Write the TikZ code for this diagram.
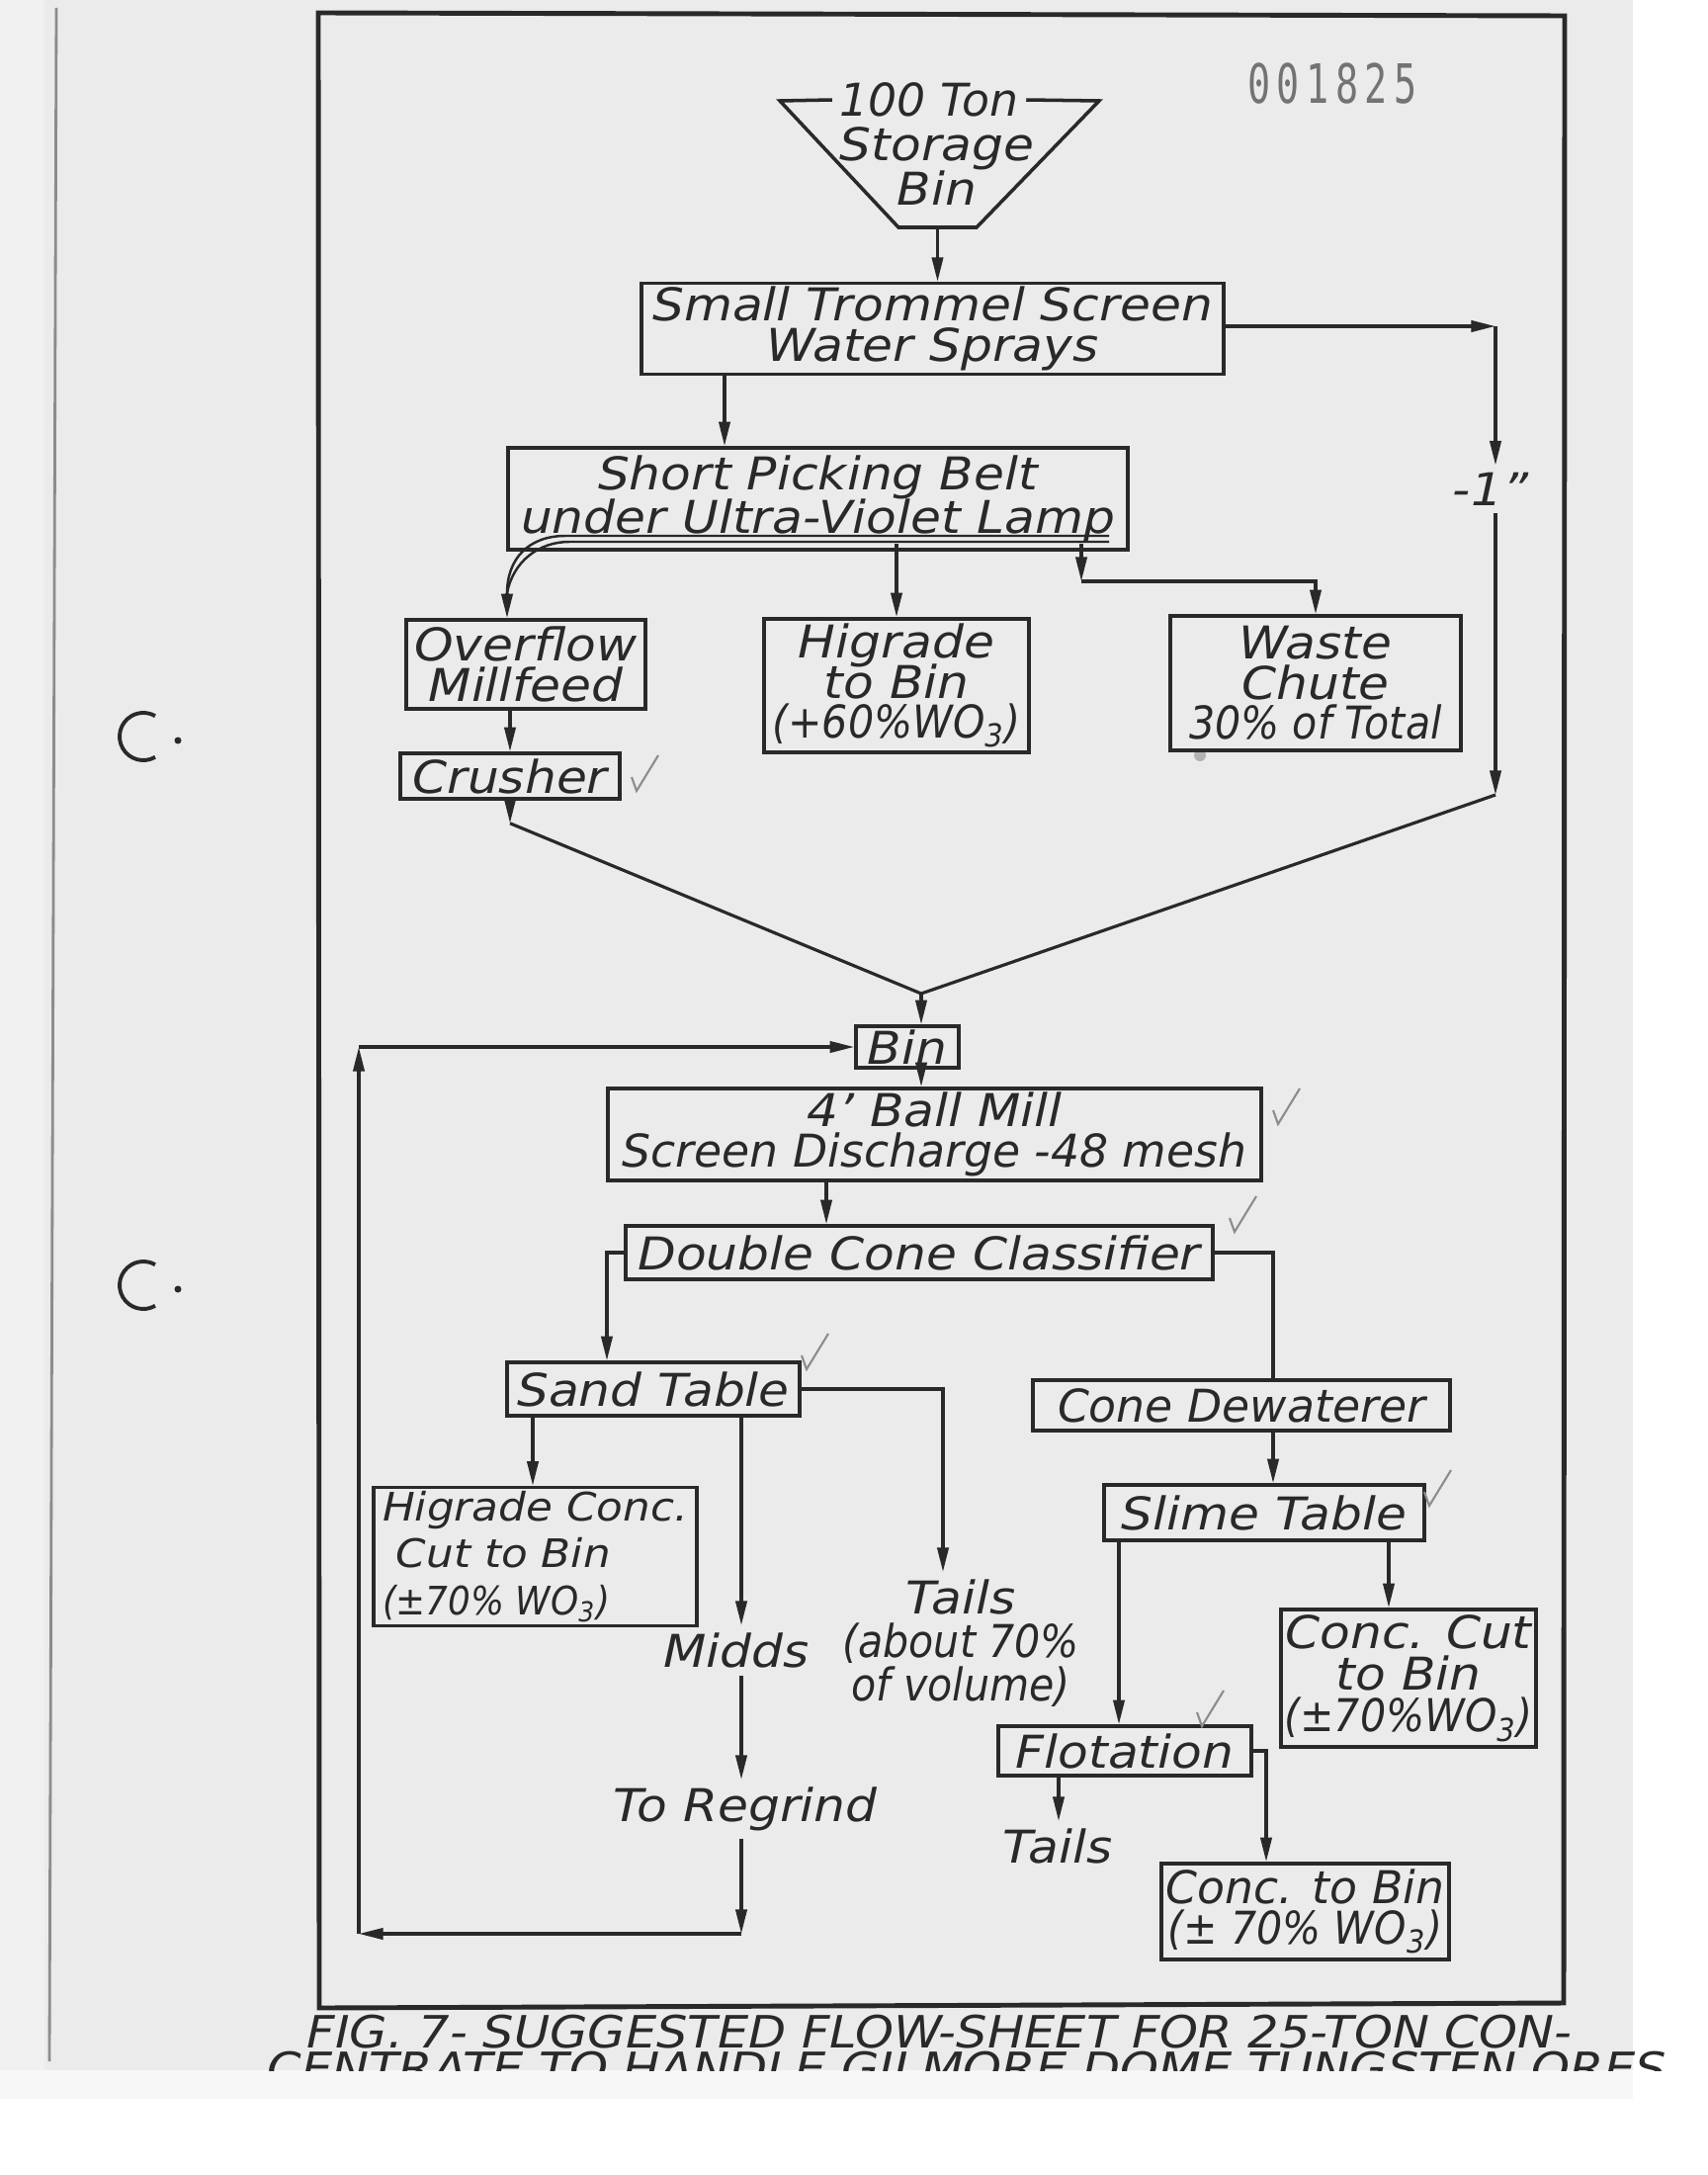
\documentclass[tikz,border=0pt]{standalone}
\usepackage{fontspec}
\setmainfont{DejaVu Sans}[ItalicFont={DejaVu Sans Oblique},FakeStretch=1.1]
\newfontfamily\plainfont{DejaVu Sans}[ItalicFont={DejaVu Sans Oblique}]
\newfontfamily\narrowfont{DejaVu Sans}[ItalicFont={DejaVu Sans Oblique},FakeStretch=0.9]
\newfontfamily\stampfont{DejaVu Sans Mono}[FakeStretch=0.7,LetterSpace=12]
\usetikzlibrary{arrows.meta}
\definecolor{paper}{gray}{0.92}
\definecolor{ink}{gray}{0.16}
\definecolor{pencil}{gray}{0.55}
\definecolor{stampgray}{gray}{0.45}
\setlength{\lineskiplimit}{-20pt}
\begin{document}
\begin{tikzpicture}[x=0.01cm,y=-0.01cm,
  every node/.style={text=ink,font=\fontsize{13}{11.5}\selectfont\itshape},
  stage/.style={draw=ink,line width=1pt,inner sep=1pt,align=center},
  stream/.style={inner sep=2pt,align=center},
  pipe/.style={draw=ink,line width=0.9pt},
  flow/.style={pipe,-{Triangle[length=7pt,width=3.2pt]}},
  pencilmark/.style={draw=pencil,line width=0.6pt}]

% sheet
\useasboundingbox (0,0) rectangle (1728,2200);
\fill[white] (0,0) rectangle (1728,2200);
\fill[black!6] (0,0) rectangle (45,2094);
\fill[paper] (45,0) rectangle (1652,2094);
\fill[black!3] (0,2094) rectangle (1652,2123);
\draw[black!45,line width=0.8pt] (57,8) -- (50,2085);
\foreach \y in {745,1300} {
  \draw[ink,line width=1.1pt] (145,\y) ++(60:24) arc[start angle=60,end angle=300,radius=24];
  \fill[ink] (180,\y+4) circle (3.5);
}
\fill[black!30] (1214,764) circle (6);
\draw[ink,line width=1.4pt] (322,13) -- (1583,16) -- (1582,2026) -- (323,2031) -- cycle;
\node[text=stampgray,font=\stampfont\fontsize{15.6}{16}\selectfont] (stamp) at (1348,85) {001825};

% storage bin
\node[stream,font=\plainfont\fontsize{13}{11.5}\selectfont\itshape] (bintop) at (940,101) {100 Ton};
\node[stream,font=\fontsize{13}{13}\selectfont\itshape] (storage) at (948,168) {Storage\\Bin};
\draw[pipe,line width=1pt] (bintop.west) -- (789,102) -- (909,230) -- (988,230) -- (1112,102) -- (bintop.east);

% units
\node[stage,minimum width=5.89cm,minimum height=0.91cm] (trommel) at (943.5,332.5) {Small Trommel Screen\\Water Sprays};
\node[stage,minimum width=6.27cm,minimum height=1.03cm,font=\fontsize{13}{12.5}\selectfont\itshape] (belt) at (827.5,504.5) {Short Picking Belt\\under Ultra-Violet Lamp};
\node[stage,minimum width=2.42cm,minimum height=0.90cm] (overflow) at (532,672) {Overflow\\Millfeed};
\node[stage,minimum width=2.68cm,minimum height=1.35cm] (higrade) at (907,693.5) {Higrade\\to Bin\\{\narrowfont(+60\%WO\textsubscript{3})}};
\node[stage,minimum width=2.94cm,minimum height=1.36cm] (waste) at (1331,691) {Waste\\Chute\\{\narrowfont 30\% of Total}};
\node[stage,minimum width=2.22cm,minimum height=0.46cm] (crusher) at (516,785) {Crusher};
\node[stage,minimum width=1.04cm,minimum height=0.42cm] (bin) at (918,1059) {Bin};
\node[stage,minimum width=6.61cm,minimum height=0.93cm] (mill) at (945.5,1147.5) {4' Ball Mill\\{\plainfont Screen Discharge -48 mesh}};
\node[stage,minimum width=5.94cm,minimum height=0.54cm] (dcc) at (930,1267) {Double Cone Classifier};
\node[stage,minimum width=2.96cm,minimum height=0.54cm] (sand) at (661,1405) {Sand Table};
\node[stage,minimum width=3.27cm,minimum height=1.39cm,align=left,font=\fontsize{11.3}{13.5}\selectfont\itshape] (hconc) at (541.5,1574.5) {Higrade Conc.\\\ Cut to Bin\\{\narrowfont(±70\% WO\textsubscript{3})}};
\node[stage,minimum width=4.22cm,minimum height=0.51cm,font=\plainfont\fontsize{13}{11.5}\selectfont\itshape] (cdew) at (1256,1421.5) {Cone Dewaterer};
\node[stage,minimum width=3.24cm,minimum height=0.56cm] (slime) at (1279,1530) {Slime Table};
\node[stage,minimum width=2.58cm,minimum height=1.39cm,font=\fontsize{13}{12}\selectfont\itshape] (ccut) at (1425,1697.5) {Conc. Cut\\to Bin\\{\narrowfont(±70\%WO\textsubscript{3})}};
\node[stage,minimum width=2.56cm,minimum height=0.50cm] (flot) at (1138,1771) {Flotation};
\node[stage,minimum width=2.91cm,minimum height=0.97cm] (cbin) at (1320.5,1933.5) {{\plainfont Conc. to Bin}\\{\narrowfont(± 70\% WO\textsubscript{3})}};

% stream labels
\node[stream] (minus) at (1508,495) {-1"};
\node[stream,anchor=north] (midds) at (745,1644) {Midds};
\node[stream,anchor=north] (regrind) at (754,1800) {To Regrind};
\node[stream,anchor=north,font=\fontsize{13}{12.5}\selectfont\itshape] (tails) at (972,1590) {Tails\\{\narrowfont (about 70\%}\\{\narrowfont of volume)}};
\node[stream,anchor=north] (tails2) at (1070,1842) {Tails};

% bends and columns
\coordinate (binout) at (948.5,230);
\coordinate (fine) at (1513,330);
\coordinate (fineout) at (1513,804);
\coordinate (join) at (932,1005);
\coordinate (beltcol) at (733,0);
\coordinate (ovfin) at (513,600);
\coordinate (wtop) at (1094,550);
\coordinate (wbend) at (1094,588);
\coordinate (dcccol) at (836,0);
\coordinate (sandcol) at (614,0);
\coordinate (dewcol) at (1288,0);
\coordinate (hccol) at (539,0);
\coordinate (midcol) at (750,0);
\coordinate (tailcol) at (954,0);
\coordinate (flotcol) at (1132,0);
\coordinate (ccutcol) at (1405,0);
\coordinate (ftailcol) at (1071,0);
\coordinate (cbincol) at (1281,0);
\coordinate (retR) at (750,1956);
\coordinate (retL) at (363,1956);

% crushing side
\draw[flow] (binout) -- (binout |- trommel.north);
\draw[flow] (trommel.east |- fine) -- (fine);
\draw[flow] (fine) -- (fine |- minus.north);
\draw[flow] (fine |- minus.south) -- (fineout);
\draw[pipe] (fineout) -- (join);
\draw[flow] (beltcol |- trommel.south) -- (beltcol |- belt.north);
\draw[pipe,line width=0.7pt] (1122,542) -- (572,542) .. controls (535,542) and (513,565) .. (ovfin);
\draw[pipe,line width=0.7pt] (1122,548) -- (576,548) .. controls (545,548) and (519,568) .. (ovfin);
\draw[flow] (ovfin) -- (ovfin |- overflow.north);
\draw[flow] (higrade.north |- wtop) -- (higrade.north);
\draw[flow] (wtop) -- (wbend);
\draw[flow] (wbend) -| (waste.north);
\draw[flow] (overflow.south -| crusher.north) -- (crusher.north);
\draw[flow] (crusher.south) -- ++(0,23) coordinate (crout);
\draw[pipe] (crout) -- (join);

% mill side
\draw[flow] (join) -- (join |- bin.north);
\draw[flow] (join |- bin.south) -- (join |- mill.north);
\draw[flow] (dcccol |- mill.south) -- (dcccol |- dcc.north);
\draw[flow] (dcc.west) -| (sandcol |- sand.north);
\draw[pipe] (dcc.east) -| (dewcol |- cdew.north);
\draw[flow] (dewcol |- cdew.south) -- (dewcol |- slime.north);
\draw[flow] (hccol |- sand.south) -- (hccol |- hconc.north);
\draw[flow] (midcol |- sand.south) -- (midcol |- midds.north);
\draw[flow] (midcol |- midds.south) -- (midcol |- regrind.north);
\draw[flow] (midcol |- regrind.south) -- (retR);
\draw[flow] (retR) -- (retL);
\draw[flow] (retL) -- (retL |- bin.west);
\draw[flow] (retL |- bin.west) -- (bin.west);
\draw[flow] (sand.east) -| (tailcol |- tails.north);
\draw[flow] (flotcol |- slime.south) -- (flotcol |- flot.north);
\draw[flow] (ccutcol |- slime.south) -- (ccutcol |- ccut.north);
\draw[flow] (ftailcol |- flot.south) -- (ftailcol |- tails2.north);
\draw[flow] (flot.east) -| (cbincol |- cbin.north);

% pencil ticks
\foreach \p in {(644,800),(1293,1137),(1249,1246),(816,1385),(1446,1523),(1216,1746)}
  \draw[pencilmark] \p ++(-5,-14) -- \p -- ++(22,-36);

% caption
\node[anchor=west,inner sep=0pt,font=\fontsize{12.8}{13}\selectfont\itshape] (figcap) at (310,2055) {FIG. 7- SUGGESTED FLOW-SHEET FOR 25-TON CON-};
\begin{scope}
\clip (0,0) rectangle (1728,2094);
\node[anchor=west,inner sep=0pt,font=\fontsize{12.8}{13}\selectfont\itshape] (figcap2) at (270,2092) {CENTRATE TO HANDLE GILMORE DOME TUNGSTEN ORES};
\end{scope}
\end{tikzpicture}
\end{document}
